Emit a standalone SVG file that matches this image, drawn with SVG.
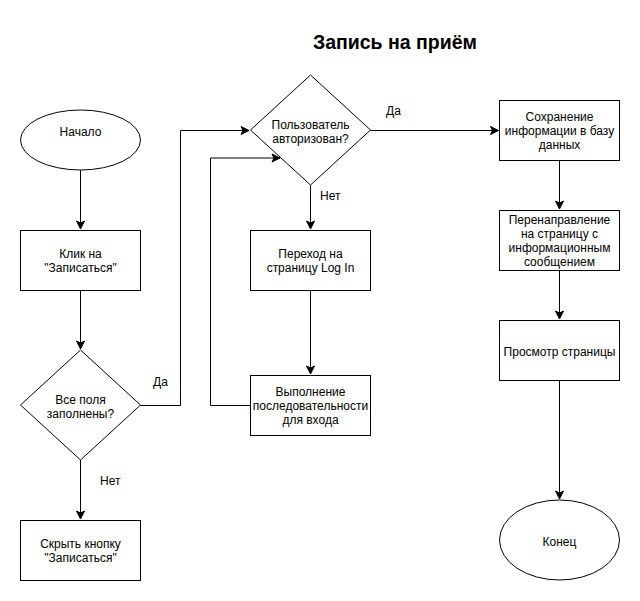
<svg xmlns="http://www.w3.org/2000/svg" width="640" height="601" viewBox="0 0 640 601">
<style>
.n{fill:#fff;stroke:#000;stroke-width:1}
.t{font-family:"Liberation Sans",Arial,sans-serif;font-size:12px;fill:#000;text-anchor:middle}
.c{fill:none;stroke:#000;stroke-width:1}
.l{font-family:"Liberation Sans",Arial,sans-serif;font-size:12px;fill:#000}
</style>
<defs>
<marker id="a" markerUnits="userSpaceOnUse" viewBox="-9 -5 10 10" refX="0" refY="0" markerWidth="10" markerHeight="10" orient="auto">
<path d="M0,0 L-8,-4 L-6,0 L-8,4 Z" fill="#000" stroke="#000" stroke-width="1"/>
</marker>
</defs>
<rect width="640" height="601" fill="#fff"/>
<text x="395" y="49" font-family="Liberation Sans,Arial,sans-serif" font-size="19.5" font-weight="bold" text-anchor="middle" fill="#000">Запись на приём</text>
<g id="connectors">
<path class="c" d="M80.5,170 L80.5,229" marker-end="url(#a)"/>
<path class="c" d="M80.5,290.5 L80.5,349" marker-end="url(#a)"/>
<path class="c" d="M80.5,460 L80.5,519" marker-end="url(#a)"/>
<path class="c" d="M140.5,405.5 L180.5,405.5 L180.5,130.5 L249,130.5" marker-end="url(#a)"/>
<path class="c" d="M310.5,185 L310.5,229" marker-end="url(#a)"/>
<path class="c" d="M310.5,290.5 L310.5,374" marker-end="url(#a)"/>
<path class="c" d="M250.5,405.5 L210.5,405.5 L210.5,158 L280,158" marker-end="url(#a)"/>
<path class="c" d="M370.5,130.5 L498.5,130.5" marker-end="url(#a)"/>
<path class="c" d="M559.5,160.5 L559.5,209" marker-end="url(#a)"/>
<path class="c" d="M559.5,270.5 L559.5,319" marker-end="url(#a)"/>
<path class="c" d="M559.5,380.5 L559.5,499" marker-end="url(#a)"/>
<text class="l" x="153" y="386">Да</text>
<text class="l" x="100" y="485">Нет</text>
<text class="l" x="386" y="115">Да</text>
<text class="l" x="320" y="200">Нет</text>
</g>
<g id="start">
<ellipse class="n" cx="80.5" cy="140" rx="60" ry="30"/>
<text class="t" x="80.5" y="135.5">Начало</text>
</g>
<g id="click">
<rect class="n" x="20.5" y="230.5" width="120" height="60"/>
<text class="t" x="80.5" y="258">Клик на</text>
<text class="t" x="80.5" y="272">"Записаться"</text>
</g>
<g id="allfields">
<path class="n" d="M80.5,350 L140.5,405 L80.5,460 L20.5,405 Z"/>
<text class="t" x="80.5" y="403.5">Все поля</text>
<text class="t" x="80.5" y="418">заполнены?</text>
</g>
<g id="hide">
<rect class="n" x="20.5" y="520.5" width="120" height="60"/>
<text class="t" x="80.5" y="547.5">Скрыть кнопку</text>
<text class="t" x="80.5" y="561.5">"Записаться"</text>
</g>
<g id="auth">
<path class="n" d="M310.5,75 L370.5,130 L310.5,185 L250.5,130 Z"/>
<text class="t" x="310.5" y="128.5">Пользователь</text>
<text class="t" x="310.5" y="142.5">авторизован?</text>
</g>
<g id="login">
<rect class="n" x="250.5" y="230.5" width="120" height="60"/>
<text class="t" x="310.5" y="258">Переход на</text>
<text class="t" x="310.5" y="272">страницу Log In</text>
</g>
<g id="sequence">
<rect class="n" x="250.5" y="375.5" width="120" height="60"/>
<text class="t" x="310.5" y="395.5">Выполнение</text>
<text class="t" x="310.5" y="410">последовательности</text>
<text class="t" x="310.5" y="424">для входа</text>
</g>
<g id="save">
<rect class="n" x="499.5" y="100.5" width="120" height="60"/>
<text class="t" x="559.5" y="120.5">Сохранение</text>
<text class="t" x="559.5" y="135">информации в базу</text>
<text class="t" x="559.5" y="149">данных</text>
</g>
<g id="redirect">
<rect class="n" x="499.5" y="210.5" width="120" height="60"/>
<text class="t" x="559.5" y="224">Перенаправление</text>
<text class="t" x="559.5" y="238">на страницу с</text>
<text class="t" x="559.5" y="252">информационным</text>
<text class="t" x="559.5" y="266">сообщением</text>
</g>
<g id="view">
<rect class="n" x="499.5" y="320.5" width="120" height="60"/>
<text class="t" x="559.5" y="355.5">Просмотр страницы</text>
</g>
<g id="end">
<ellipse class="n" cx="559.5" cy="540" rx="60" ry="40"/>
<text class="t" x="559.5" y="545.5">Конец</text>
</g>
</svg>
